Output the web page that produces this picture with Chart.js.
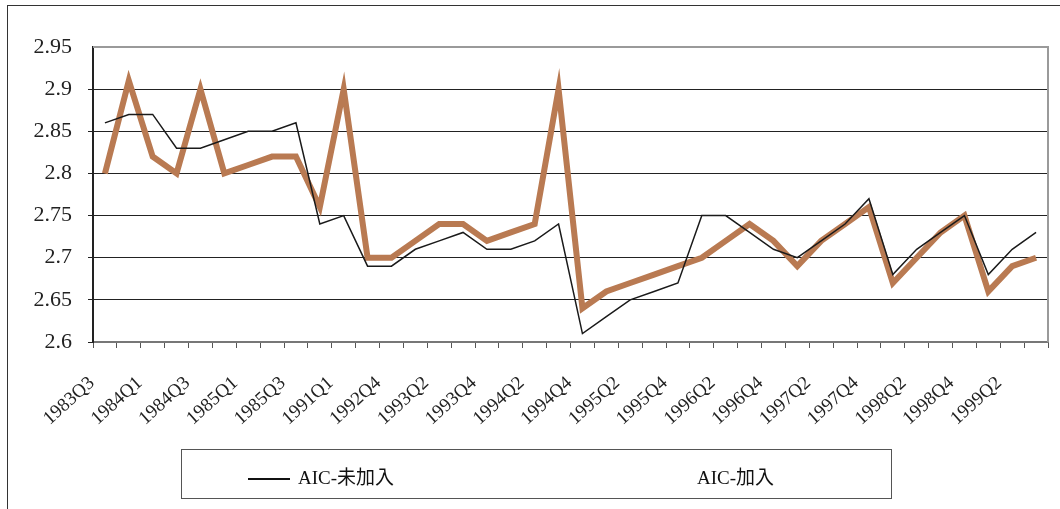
<!DOCTYPE html>
<html>
<head>
<meta charset="utf-8">
<script src="https://cdn.jsdelivr.net/npm/chart.js@4.4.0/dist/chart.umd.min.js"></script>
<style>
  html, body { margin: 0; padding: 0; background: #fff; }
  #wrap { position: relative; width: 1060px; height: 509px; overflow: hidden; }
  #frame { position: absolute; left: 7px; top: 5px; right: -2px; bottom: -2px;
           border-left: 1px solid #333; border-top: 1px solid #333; }
  #legend { position: absolute; left: 181px; top: 449px; width: 711px; height: 50px;
            border: 1px solid #555; box-sizing: border-box;
            font-family: "Liberation Serif", "Noto Sans CJK TC", serif; font-size: 19px; color: #111; }
  #legend .item { position: absolute; top: 12px; white-space: nowrap; }
  #legend .swatch { display: inline-block; width: 42px; height: 0; border-top: 2px solid #111;
                    vertical-align: middle; margin-right: 8px; position: relative; top: -1px; }
</style>
</head>
<body>
<div id="wrap">
  <div id="frame"></div>
  <canvas id="aic" width="1060" height="509"></canvas>
  <div id="legend">
    <span class="item" style="left:66px"><span class="swatch"></span>AIC-未加入</span>
    <span class="item" style="left:515px">AIC-加入</span>
  </div>
</div>
<script>
// quarterly AIC values, model without / with the added variable
const quarters = [
  '1983Q3','1983Q4','1984Q1','1984Q2','1984Q3','1984Q4','1985Q1','1985Q2','1985Q3','1990Q4',
  '1991Q1','1992Q3','1992Q4','1993Q1','1993Q2','1993Q3','1993Q4','1994Q1','1994Q2','1994Q3',
  '1994Q4','1995Q1','1995Q2','1995Q3','1995Q4','1996Q1','1996Q2','1996Q3','1996Q4','1997Q1',
  '1997Q2','1997Q3','1997Q4','1998Q1','1998Q2','1998Q3','1998Q4','1999Q1','1999Q2','1999Q3'
];
const aicWithout = [
  2.86, 2.87, 2.87, 2.83, 2.83, 2.84, 2.85, 2.85, 2.86, 2.74,
  2.75, 2.69, 2.69, 2.71, 2.72, 2.73, 2.71, 2.71, 2.72, 2.74,
  2.61, 2.63, 2.65, 2.66, 2.67, 2.75, 2.75, 2.73, 2.71, 2.70,
  2.72, 2.74, 2.77, 2.68, 2.71, 2.73, 2.75, 2.68, 2.71, 2.73
];
const aicWith = [
  2.80, 2.91, 2.82, 2.80, 2.90, 2.80, 2.81, 2.82, 2.82, 2.76,
  2.90, 2.70, 2.70, 2.72, 2.74, 2.74, 2.72, 2.73, 2.74, 2.90,
  2.64, 2.66, 2.67, 2.68, 2.69, 2.70, 2.72, 2.74, 2.72, 2.69,
  2.72, 2.74, 2.76, 2.67, 2.70, 2.73, 2.75, 2.66, 2.69, 2.70
];
const yMin = 2.6, yMax = 2.95, yStep = 0.05;

// gray border on the top and right of the plot area
const plotFrame = {
  id: 'plotFrame',
  afterDraw(chart) {
    const { ctx, chartArea: a } = chart;
    ctx.save();
    ctx.strokeStyle = '#9a9a9a';
    ctx.lineWidth = 2;
    ctx.beginPath();
    ctx.moveTo(a.left, a.top);
    ctx.lineTo(a.right, a.top);
    ctx.lineTo(a.right, a.bottom);
    ctx.stroke();
    ctx.restore();
  }
};

new Chart(document.getElementById('aic'), {
  type: 'line',
  data: {
    labels: quarters,
    datasets: [
      { label: 'AIC-加入', data: aicWith, borderColor: '#b97a52', borderWidth: 6,
        pointRadius: 0, tension: 0, order: 2 },
      { label: 'AIC-未加入', data: aicWithout, borderColor: '#1a1a1a', borderWidth: 1.5,
        pointRadius: 0, tension: 0, order: 1 }
    ]
  },
  options: {
    responsive: false,
    animation: false,
    layout: { padding: { left: 8, top: 47, right: 12, bottom: 0 } },
    plugins: { legend: { display: false }, tooltip: { enabled: false } },
    scales: {
      x: {
        offset: true,
        afterFit: s => { s.height = 167; s.paddingLeft = 0; s.paddingRight = 0; },
        grid: { offset: true, drawOnChartArea: false, drawTicks: true, tickLength: 6, color: '#555' },
        border: { color: '#777', width: 2 },
        ticks: {
          autoSkip: false, minRotation: 42, maxRotation: 42, padding: 24, labelOffset: -13,
          color: '#222', font: { family: 'Liberation Serif', size: 19 },
          callback: (v, i) => (i % 2 === 0 ? quarters[i] : '')
        }
      },
      y: {
        min: yMin, max: yMax,
        afterFit: s => { s.width = 85; },
        grid: { color: ctx => (ctx.tick && ctx.tick.value >= yMax - 1e-9 ? 'rgba(0,0,0,0)' : '#222'),
                lineWidth: 1, tickLength: 5 },
        border: { color: '#222', width: 2 },
        ticks: {
          stepSize: yStep, padding: 16, color: '#222',
          font: { family: 'Liberation Serif', size: 22 },
          callback: v => String(Number(v.toFixed(2)))
        }
      }
    }
  },
  plugins: [plotFrame]
});
</script>
</body>
</html>
